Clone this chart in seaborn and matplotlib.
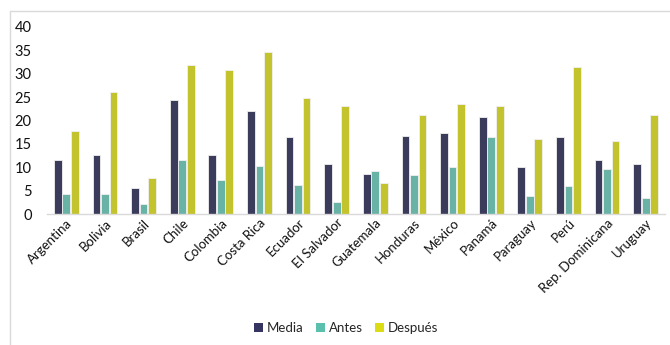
import matplotlib
matplotlib.use("Agg")
import matplotlib.pyplot as plt
import seaborn as sns
import pandas as pd
from matplotlib.lines import Line2D
from matplotlib.patches import Patch

countries = ["Argentina", "Bolivia", "Brasil", "Chile", "Colombia", "Costa Rica",
             "Ecuador", "El Salvador", "Guatemala", "Honduras", "México", "Panamá",
             "Paraguay", "Perú", "Rep. Dominicana", "Uruguay"]
media = [11.6, 12.6, 5.6, 24.4, 12.6, 22.1, 16.5, 10.7, 8.6, 16.7, 17.4, 20.8, 10.0, 16.5, 11.6, 10.7]
antes = [4.2, 4.2, 2.2, 11.6, 7.3, 10.3, 6.3, 2.6, 9.3, 8.3, 10.0, 16.4, 3.9, 5.9, 9.6, 3.5]
despues = [17.7, 26.1, 7.6, 31.8, 30.8, 34.6, 24.8, 23.1, 6.6, 21.1, 23.5, 23.1, 16.0, 31.5, 15.7, 21.1]
series_names = ["Media", "Antes", "Después"]
yticks = [0, 5, 10, 15, 20, 25, 30, 35, 40]

colors = ["#363561", "#5bbfad", "#dcdc14"]

df = pd.DataFrame({
    "País": countries * 3,
    "Valor": media + antes + despues,
    "Serie": [series_names[0]] * len(countries) + [series_names[1]] * len(countries) + [series_names[2]] * len(countries),
})

sns.set_style("white")
plt.rcParams["font.family"] = ["Lato", "DejaVu Sans"]

fig = plt.figure(figsize=(6.7, 3.45), dpi=100)
ax = fig.add_axes([47 / 670, 1 - 214 / 345, 618 / 670, (214 - 27) / 345])

sns.barplot(data=df, x="País", y="Valor", hue="Serie", palette=colors,
            width=0.66, gap=0.1, ax=ax, legend=False,
            edgecolor="#f0f0f0", linewidth=0.6)

ax.set_ylim(0, 40)
ax.set_yticks(yticks)
ax.set_xlim(-0.5, len(countries) - 0.5)
ax.set_xlabel("")
ax.set_ylabel("")
for s in ["left", "right", "top"]:
    ax.spines[s].set_visible(False)
ax.spines["bottom"].set_color("#d9d9d9")
ax.spines["bottom"].set_linewidth(1.0)
ax.tick_params(axis="y", length=0, labelsize=10.5, pad=11, labelcolor="#111111")
ax.tick_params(axis="x", length=0, labelsize=9.5, pad=2, labelcolor="#111111")
for lab in ax.get_xticklabels():
    lab.set_rotation(45)
    lab.set_ha("right")
    lab.set_rotation_mode("anchor")

handles = [Patch(facecolor=c, edgecolor="none") for c in colors]
fig.legend(handles, series_names, loc="center", bbox_to_anchor=(346 / 670, 1 - 328 / 345),
           ncol=3, frameon=False, fontsize=9.5, handlelength=0.7, handleheight=0.7,
           handletextpad=0.3, columnspacing=0.9)

# chart-area border (left and top edges visible)
fig.add_artist(Line2D([9.5 / 670, 9.5 / 670], [0, 1 - 10.5 / 345], transform=fig.transFigure,
                      color="#d9d9d9", linewidth=1))
fig.add_artist(Line2D([9.5 / 670, 1], [1 - 10.5 / 345, 1 - 10.5 / 345], transform=fig.transFigure,
                      color="#d9d9d9", linewidth=1))

fig.savefig("out.png", dpi=100)
